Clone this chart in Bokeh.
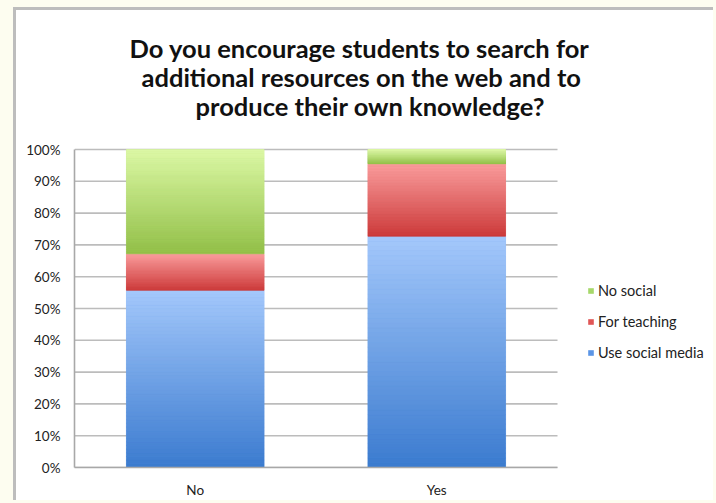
from bokeh.plotting import figure
from bokeh.models import (Range1d, FixedTicker, PrintfTickFormatter,
                          Legend, LegendItem, Title, GlobalInlineStyleSheet)
from bokeh.embed import file_html
from bokeh.resources import INLINE

# ---- data ----
categories = ["No", "Yes"]
use_social_media = [55.7, 72.7]
for_teaching = [11.5, 22.8]
no_social = [32.8, 4.5]
series_names = ["Use social media", "For teaching", "No social"]
y_ticks = [0, 10, 20, 30, 40, 50, 60, 70, 80, 90, 100]
title_lines = ["Do you encourage students to search for",
               "additional resources on the web and to",
               "produce their own knowledge?"]

# ---- styles / layout ----
series_values = [use_social_media, for_teaching, no_social]
legend_colors = ["#5b95e6", "#e05656", "#a6d86a"]
grad_top = ["#a4c8fb", "#fa9e9e", "#dcf8a6"]
grad_bottom = ["#3b7bcf", "#cc3a3a", "#92bf47"]
GRID_COLOR = "#bcbcbc"
AXIS_COLOR = "#a8a8a8"
title_offsets = [55, 67, 121]
FONT = "Lato"
BAR_W = 0.57
N_SLICES = 48
FIG_W, FIG_H = 700, 493
BORDER_L, BORDER_R, BORDER_T, BORDER_B = 58, 6, 137, 36
DATA_W = 483            # pixel width taken by the category area
PAD_TOP_PX = 2          # room above 100% so the top grid line is not clipped
frame_w = FIG_W - BORDER_L - BORDER_R
frame_h = FIG_H - BORDER_T - BORDER_B

n = len(categories)
x_pos = [i + 0.5 for i in range(n)]
x_end = n * frame_w / DATA_W
y_end = 100 * (frame_h / (frame_h - PAD_TOP_PX))


def mix(c1, c2, t):
    a = [int(c1[i:i + 2], 16) for i in (1, 3, 5)]
    b = [int(c2[i:i + 2], 16) for i in (1, 3, 5)]
    return "#%02x%02x%02x" % tuple(round(a[k] + (b[k] - a[k]) * t) for k in range(3))


css = GlobalInlineStyleSheet(css="html, body { margin: 0; padding: 0; background: #fdfdf0; }")

p = figure(x_range=Range1d(0, x_end), y_range=Range1d(0, y_end),
           width=FIG_W, height=FIG_H,
           output_backend="svg", toolbar_location=None,
           min_border_left=BORDER_L, min_border_right=BORDER_R,
           min_border_top=BORDER_T, min_border_bottom=BORDER_B,
           background_fill_color="white", border_fill_color="white",
           outline_line_color=None)
p.stylesheets = [css]
p.styles = {"margin-left": "13px", "margin-top": "7px",
            "border-left": "3px solid #bdbdbd", "border-top": "3px solid #bdbdbd",
            "background": "white"}

# grid lines only across the category area
p.xgrid.grid_line_color = None
p.ygrid.grid_line_color = None
p.segment(x0=[0] * len(y_ticks), x1=[n] * len(y_ticks), y0=y_ticks, y1=y_ticks,
          line_color=GRID_COLOR, line_width=1.6)

# base stacked bars (legend renderers)
data = {"x": x_pos}
for name, vals in zip(series_names, series_values):
    data[name] = vals
renderers = p.vbar_stack(series_names, x="x", width=BAR_W, source=data,
                         color=legend_colors, line_color=None)

# gradient overlay, slices computed from the data values
for i, xp in enumerate(x_pos):
    base = 0.0
    for j, vals in enumerate(series_values):
        v = vals[i]
        xs, bots, tops, cols = [], [], [], []
        for k in range(N_SLICES):
            xs.append(xp)
            bots.append(base + v * k / N_SLICES)
            tops.append(base + v * (k + 1) / N_SLICES)
            cols.append(mix(grad_bottom[j], grad_top[j], (k + 0.5) / N_SLICES))
        p.vbar(x=xs, bottom=bots, top=tops, width=BAR_W,
               fill_color=cols, line_color=cols, line_width=0.6)
        base += v

# axes
p.yaxis.ticker = FixedTicker(ticks=y_ticks)
p.yaxis.formatter = PrintfTickFormatter(format="%d%%")
p.yaxis.bounds = (0, 100)
p.xaxis.ticker = FixedTicker(ticks=x_pos)
p.xaxis.major_label_overrides = {xp: c for xp, c in zip(x_pos, categories)}
p.xaxis.bounds = (0, n)
for ax in (p.xaxis[0], p.yaxis[0]):
    ax.axis_line_color = AXIS_COLOR
    ax.axis_line_width = 1.6
    ax.major_tick_line_color = None
    ax.minor_tick_line_color = None
    ax.major_tick_out = 0
    ax.major_label_text_font = FONT
    ax.major_label_text_font_size = "13.5px"
    ax.major_label_text_color = "#222222"
p.yaxis.major_label_standoff = 14
p.xaxis.major_label_standoff = 14

# legend
items = [LegendItem(label=series_names[j], renderers=[renderers[j]]) for j in (2, 1, 0)]
legend = Legend(items=items, location=(513, 106), orientation="vertical",
                label_text_font=FONT, label_text_font_size="14.5px",
                label_text_color="#222222",
                glyph_width=7, glyph_height=7, label_height=14,
                label_standoff=4, spacing=14, padding=0, margin=0,
                border_line_color=None, background_fill_alpha=0)
p.add_layout(legend, "center")

# title: a spacer nearest the plot, then the three lines outward
p.add_layout(Title(text=" ", text_font_size="10px", standoff=15), "above")
for line, off in reversed(list(zip(title_lines, title_offsets))):
    t = Title(text=line, align="left", offset=off, text_font=FONT,
              text_font_size="25.5px", text_font_style="bold", text_color="#111111",
              standoff=-3)
    p.add_layout(t, "above")

open("out.html", "w").write(file_html(p, INLINE))
